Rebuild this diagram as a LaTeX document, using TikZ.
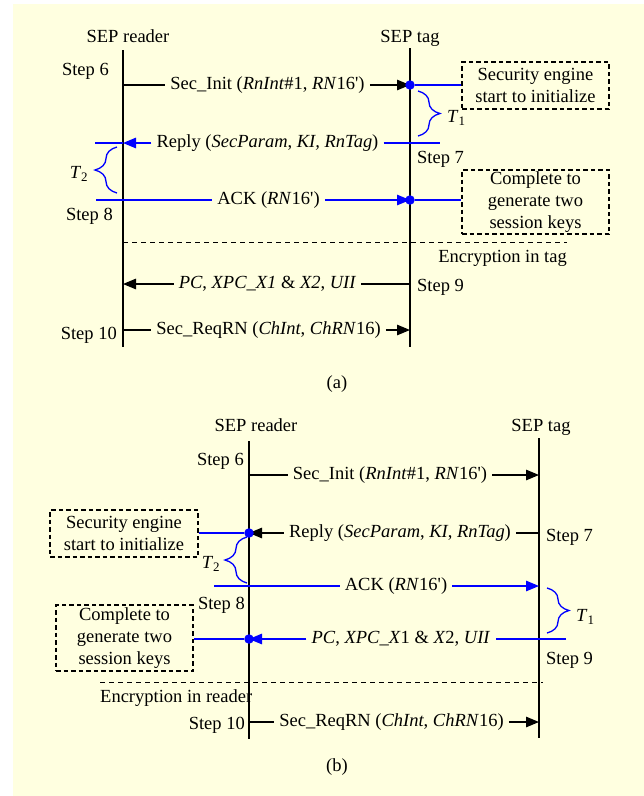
\documentclass[tikz,border=0pt]{standalone}
\usepackage{fontspec}
\setmainfont{Liberation Serif}
\usetikzlibrary{arrows.meta,decorations.pathreplacing}
\definecolor{bgy}{RGB}{255,255,224}
\definecolor{sblue}{RGB}{0,0,255}
\newcommand{\pq}{\textquotesingle}
\begin{document}
\begin{tikzpicture}[x=1pt,y=-1pt,
  every node/.style={font=\fontsize{18.5}{21.7}\selectfont, inner sep=0pt},
  life/.style={line width=2pt},
  msg/.style={line width=1.2pt},
  bmsg/.style={line width=1.3pt, draw=sblue},
  tip/.style={-{Triangle[length=13pt,width=10.5pt]}},
  txt/.style={inner xsep=5pt, inner ysep=2pt},
  dotn/.style={circle, fill=sblue, minimum size=9.5pt, inner sep=0pt},
  note/.style={draw, line width=1.7pt, dash pattern=on 4.5pt off 3pt, align=center},
  sepline/.style={line width=1pt, dash pattern=on 5pt off 4pt},
  brc/.style={draw=sblue, line width=1.3pt, decorate, decoration={brace, amplitude=22pt}},
  lbl/.style={text height=12.5pt, text depth=3.5pt}
]
\useasboundingbox (0,0) rectangle (644,796);
\fill[bgy] (13,4) rectangle (644,796);

% ================= (a) =================
\coordinate (ra1) at (123,50);  \coordinate (ra2) at (123,347);
\coordinate (ta1) at (410,48);  \coordinate (ta2) at (410,347);
\draw[life] (ra1) -- (ra2);
\draw[life] (ta1) -- (ta2);
\node[lbl] (hra) at (128,38) {SEP reader};
\node[lbl] (hta) at (410,38) {SEP tag};

\node[lbl, anchor=east] (sa6) at (109,71) {Step 6};
\node[lbl, anchor=west] (sa7) at (417,159) {Step 7};
\node[lbl, anchor=east] (sa8) at (113,216) {Step 8};
\node[lbl, anchor=west] (sa9) at (417,287) {Step 9};
\node[lbl, anchor=east] (sa10) at (117,335) {Step 10};

% message 1
\coordinate (ra85) at (123,85); \coordinate (ta85) at (410,85);
\node[txt] (ma1) at (267.5,85) {Sec\_Init (\textit{RnInt}\#1, \textit{RN}16\pq)};
\draw[msg] (ra85) -- (ma1.west);
\draw[msg,tip] (ma1.east) -- (ta85);
\node[note, minimum width=147pt, minimum height=47pt] (boxa1) at (535.5,85.5) {Security engine\\start to initialize};

% T1 brace
\coordinate (bt1a) at (418,91); \coordinate (bt1b) at (418,136);
\draw[brc] (bt1a) -- (bt1b);
\node[lbl, anchor=west] (t1a) at (447,118) {\textit{T}\textsubscript{1}};

% message 2 (reply)
\coordinate (ra143) at (123,143); \coordinate (la143) at (95,143); \coordinate (xa143) at (440,143);
\node[txt] (ma2) at (267.5,143) {Reply (\textit{SecParam}, \textit{KI, RnTag})};
\draw[bmsg] (la143) -- (ra143);
\draw[bmsg,tip] (ma2.west) -- (ra143);
\draw[bmsg] (ma2.east) -- (xa143);

% T2 brace
\coordinate (bt2a) at (117,193); \coordinate (bt2b) at (117,147);
\draw[brc] (bt2a) -- (bt2b);
\node[lbl] (t2a) at (79,174) {\textit{T}\textsubscript{2}};

% message 3 (ACK)
\coordinate (la200) at (96,200); \coordinate (ta200) at (410,200);
\node[txt] (ma3) at (268.5,200) {ACK (\textit{RN}16\pq)};
\draw[bmsg] (la200) -- (ma3.west);
\draw[bmsg,tip] (ma3.east) -- (ta200);
\node[note, minimum width=147pt, minimum height=64pt] (boxa2) at (535.5,202) {Complete to\\generate two\\session keys};

% dots (a)
\node[dotn] (da1) at (ta85) {};
\node[dotn] (da2) at (ta200) {};
\draw[bmsg] (da1) -- (boxa1.west |- da1);
\draw[bmsg] (da2) -- (boxa2.west |- da2);

% separator
\coordinate (sepa1) at (123,242); \coordinate (sepa2) at (567,242);
\draw[sepline] (sepa1) -- (sepa2);
\node[lbl, anchor=east] (enca) at (567,258) {Encryption in tag};

% message 4
\coordinate (ra284) at (123,284); \coordinate (ta284) at (410,284);
\node[txt] (ma4) at (267.5,284) {\textit{PC}, \textit{XPC\_X1} \& \textit{X2}, \textit{UII}};
\draw[msg] (ta284) -- (ma4.east);
\draw[msg,tip] (ma4.west) -- (ra284);

% message 5
\coordinate (ra330) at (123,330); \coordinate (ta330) at (410,330);
\node[txt] (ma5) at (268.5,330) {Sec\_ReqRN (\textit{ChInt}, \textit{ChRN}16)};
\draw[msg] (ra330) -- (ma5.west);
\draw[msg,tip] (ma5.east) -- (ta330);

\node[lbl] (capa) at (337,384) {(a)};

% ================= (b) =================
\coordinate (rb1) at (249,441);  \coordinate (rb2) at (249,739);
\coordinate (tb1) at (539,438);  \coordinate (tb2) at (539,738);
\draw[life] (rb1) -- (rb2);
\draw[life] (tb1) -- (tb2);
\node[lbl] (hrb) at (256,427) {SEP reader};
\node[lbl] (htb) at (541,427) {SEP tag};

\node[lbl, anchor=east] (sb6) at (244,461) {Step 6};
\node[lbl, anchor=west] (sb7) at (546,537) {Step 7};
\node[lbl, anchor=east] (sb8) at (245,605) {Step 8};
\node[lbl, anchor=west] (sb9) at (546,660) {Step 9};
\node[lbl, anchor=east] (sb10) at (245,725) {Step 10};

% message 1
\coordinate (rb475) at (249,475); \coordinate (tb475) at (539,475);
\node[txt] (mb1) at (390,475) {Sec\_Init (\textit{RnInt}\#1, \textit{RN}16\pq)};
\draw[msg] (rb475) -- (mb1.west);
\draw[msg,tip] (mb1.east) -- (tb475);

% message 2
\coordinate (rb533) at (249,533); \coordinate (tb533) at (539,533);
\node[txt] (mb2) at (400,533) {Reply (\textit{SecParam}, \textit{KI}, \textit{RnTag})};
\draw[msg] (tb533) -- (mb2.east);
\draw[msg,tip] (mb2.west) -- (rb533);
\node[note, minimum width=148pt, minimum height=47pt] (boxb1) at (124,533.5) {Security engine\\start to initialize};

% T2 brace
\coordinate (bt2c) at (247,583); \coordinate (bt2d) at (247,537);
\draw[brc] (bt2c) -- (bt2d);
\node[lbl] (t2b) at (211,564) {\textit{T}\textsubscript{2}};

% message 3 (ACK)
\coordinate (lb586) at (214,586); \coordinate (tb586) at (539,586);
\node[txt] (mb3) at (396,586) {ACK (\textit{RN}16\pq)};
\draw[bmsg] (lb586) -- (mb3.west);
\draw[bmsg,tip] (mb3.east) -- (tb586);

% T1 brace
\coordinate (bt1c) at (547,588); \coordinate (bt1d) at (547,633);
\draw[brc] (bt1c) -- (bt1d);
\node[lbl, anchor=west] (t1b) at (576,617) {\textit{T}\textsubscript{1}};

% message 4
\coordinate (rb639) at (249,639); \coordinate (xb639) at (566,639);
\node[txt] (mb4) at (401,639) {\textit{PC}, \textit{XPC\_X}1 \& \textit{X}2, \textit{UII}};
\draw[bmsg] (xb639) -- (mb4.east);
\draw[bmsg,tip] (mb4.west) -- (rb639);
\node[note, minimum width=137pt, minimum height=66pt] (boxb2) at (124.5,638) {Complete to\\generate two\\session keys};

% dots (b)
\node[dotn] (db1) at (rb533) {};
\node[dotn] (db2) at (rb639) {};
\draw[bmsg] (db1) -- (boxb1.east |- db1);
\draw[bmsg] (db2) -- (boxb2.east |- db2);

% separator
\coordinate (sepb1) at (100,682); \coordinate (sepb2) at (543,682);
\draw[sepline] (sepb1) -- (sepb2);
\node[lbl, anchor=west] (encb) at (100,698) {Encryption in reader};

% message 5
\coordinate (rb722) at (249,722); \coordinate (tb722) at (539,722);
\node[txt] (mb5) at (391.5,722) {Sec\_ReqRN (\textit{ChInt}, \textit{ChRN}16)};
\draw[msg] (rb722) -- (mb5.west);
\draw[msg,tip] (mb5.east) -- (tb722);

\node[lbl] (capb) at (337,767) {(b)};
\end{tikzpicture}
\end{document}
